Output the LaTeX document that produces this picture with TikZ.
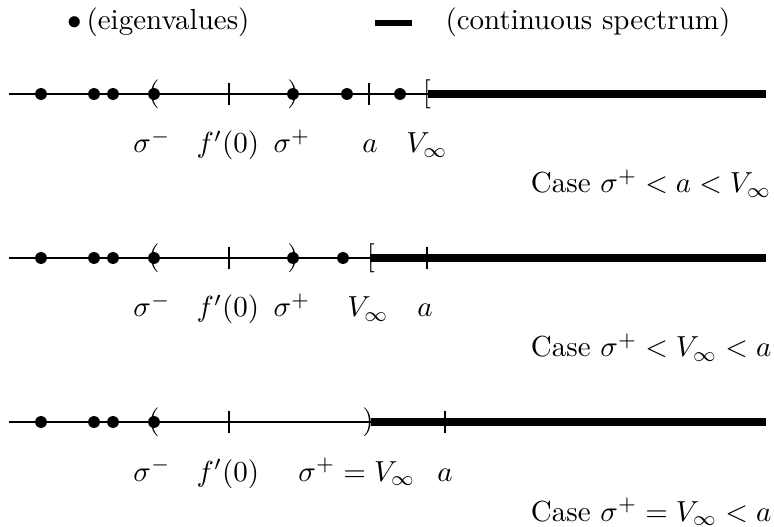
\documentclass[tikz,border=0pt]{standalone}
\begin{document}
\begin{tikzpicture}[x=0.3448pt,y=-0.3448pt,
  thinln/.style={line width=0.75pt},
  thickln/.style={line width=2.5pt},
  tickthin/.style={line width=0.5pt},
  tickthick/.style={line width=0.9pt},
  eig/.style={circle,fill,inner sep=0pt,minimum size=4.1pt},
  glyph/.style={inner sep=0pt,font=\normalsize},
  lab/.style={anchor=base,inner sep=0pt},
  casetxt/.style={anchor=base east,inner sep=0pt}]
\useasboundingbox (0,0) rectangle (774,527);

% legend
\node[glyph] (lgb) at (75,23) {$\bullet$};
\node[anchor=base west,inner sep=0pt] (lgt1) at (86,30) {(eigenvalues)};
\coordinate (lgd1) at (375,23);
\coordinate (lgd2) at (412,23);
\draw[line width=1.9pt] (lgd1) -- (lgd2);
\node[anchor=base west,inner sep=0pt] (lgt2) at (445,30) {(continuous spectrum)};

% ---------- line 1 ----------
\coordinate (As) at (9,94);
\coordinate (Ab) at (428,94);
\coordinate (Ae) at (766,94);
\draw[thinln] (As) -- (Ab);
\draw[thickln] (Ab) -- (Ae);
\foreach \x/\n in {41/a1,94/a2,113/a3,154/a4,293/a5,347/a6,400/a7}
  \node[eig] (\n) at (\x,94) {};
\foreach \x/\n in {229/at1,369/at2}{
  \coordinate (\n t) at (\x,83); \coordinate (\n b) at (\x,105);
  \draw[tickthin] (\n t) -- (\n b);}
\node[glyph] (ap1) at (154,94) {(};
\node[glyph] (ap2) at (293,94) {)};
\node[glyph] (ap3) at (427,94) {[};
\node[lab] (al1) at (152,153) {$\sigma^-$};
\node[lab] (al2) at (228,153) {$f'(0)$};
\node[lab] (al3) at (292,153) {$\sigma^+$};
\node[lab] (al4) at (370,153) {$a$};
\node[lab] (al5) at (427,153) {$V_\infty$};
\node[casetxt] (ac) at (772,193) {Case $\sigma^+ < a < V_\infty$};

% ---------- line 2 ----------
\coordinate (Bs) at (9,258);
\coordinate (Bb) at (370,258);
\coordinate (Be) at (766,258);
\draw[thinln] (Bs) -- (Bb);
\draw[thickln] (Bb) -- (Be);
\foreach \x/\n in {41/b1,94/b2,113/b3,154/b4,293/b5,343/b6}
  \node[eig] (\n) at (\x,258) {};
\coordinate (bt1t) at (229,247); \coordinate (bt1b) at (229,269);
\draw[tickthin] (bt1t) -- (bt1b);
\coordinate (bt2t) at (427,247); \coordinate (bt2b) at (427,269);
\draw[tickthick] (bt2t) -- (bt2b);
\node[glyph] (bp1) at (154,258) {(};
\node[glyph] (bp2) at (293,258) {)};
\node[glyph] (bp3) at (371,258) {[};
\node[lab] (bl1) at (152,317) {$\sigma^-$};
\node[lab] (bl2) at (228,317) {$f'(0)$};
\node[lab] (bl3) at (292,317) {$\sigma^+$};
\node[lab] (bl4) at (368,317) {$V_\infty$};
\node[lab] (bl5) at (425,317) {$a$};
\node[casetxt] (bc) at (772,357) {Case $\sigma^+ < V_\infty < a$};

% ---------- line 3 ----------
\coordinate (Cs) at (9,422);
\coordinate (Cb) at (371,422);
\coordinate (Ce) at (766,422);
\draw[thinln] (Cs) -- (Cb);
\draw[thickln] (Cb) -- (Ce);
\foreach \x/\n in {41/c1,94/c2,113/c3,154/c4}
  \node[eig] (\n) at (\x,422) {};
\coordinate (ct1t) at (229,411); \coordinate (ct1b) at (229,433);
\draw[tickthin] (ct1t) -- (ct1b);
\coordinate (ct2t) at (445,411); \coordinate (ct2b) at (445,433);
\draw[tickthick] (ct2t) -- (ct2b);
\node[glyph] (cp1) at (154,422) {(};
\node[glyph] (cp2) at (368,422) {)};
\node[lab] (cl1) at (152,481) {$\sigma^-$};
\node[lab] (cl2) at (228,481) {$f'(0)$};
\node[lab] (cl3) at (357,481) {$\sigma^+ = V_\infty$};
\node[lab] (cl4) at (445,481) {$a$};
\node[casetxt] (cc) at (772,521) {Case $\sigma^+ = V_\infty < a$};
\end{tikzpicture}
\end{document}
